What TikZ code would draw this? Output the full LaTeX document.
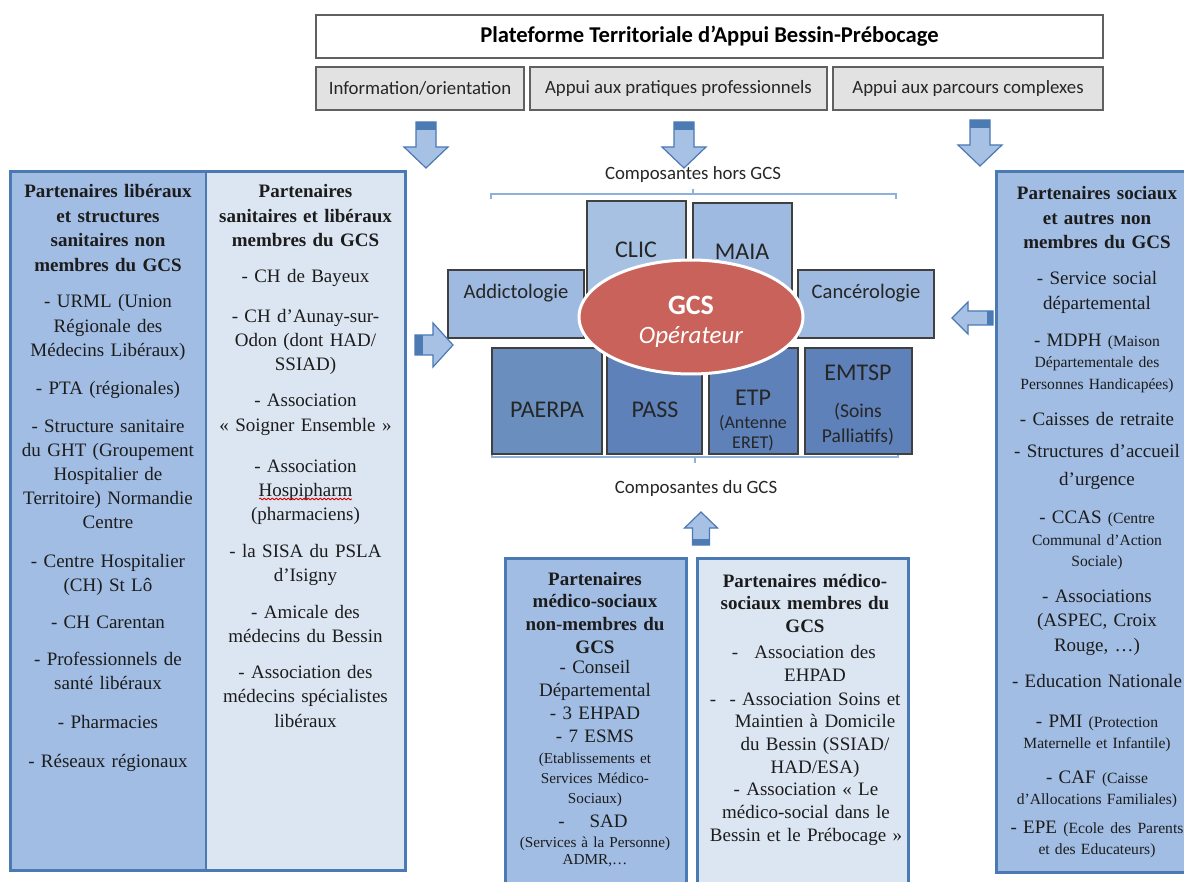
\documentclass[tikz,border=0pt]{standalone}
\usepackage{fontspec}
\setmainfont{Liberation Serif}
\newfontfamily\calib{Carlito}
\usetikzlibrary{shapes.geometric,decorations.pathmorphing}
\definecolor{bordB}{HTML}{4A79B4}
\definecolor{midB}{HTML}{A1BDE3}
\definecolor{lightB}{HTML}{DCE6F2}
\definecolor{hcsB}{HTML}{9EBAE1}
\definecolor{clicB}{HTML}{A7C1E3}
\definecolor{paerB}{HTML}{6A8FBE}
\definecolor{gcsB}{HTML}{5D81B8}
\definecolor{gcsR}{HTML}{C9625A}
\definecolor{grayF}{HTML}{E2E2E2}
\definecolor{grayD}{HTML}{606060}
\definecolor{brk}{HTML}{8EB1DA}
\definecolor{arrF}{HTML}{A6C1E4}
\definecolor{arrD}{HTML}{4C7AB3}
\definecolor{txt}{HTML}{1C1C1C}
\definecolor{ctxt}{HTML}{262626}
\newcommand{\smf}{\fontsize{7.8}{10.5}\selectfont}
\tikzset{
  para/.style={anchor=base, align=center, inner sep=0pt, text=txt, text width=100pt,
     font=\fontsize{9.5}{12.25}\selectfont},
  parab/.style={para, font=\bfseries\fontsize{9.5}{12.25}\selectfont},
  smallp/.style={para, font=\fontsize{7.8}{10.5}\selectfont},
  bpara/.style={para, text width=104pt, font=\fontsize{9.5}{11.4}\selectfont},
  bparab/.style={bpara, font=\bfseries\fontsize{9.5}{11.4}\selectfont},
  bsmall/.style={bpara, font=\fontsize{7.6}{10}\selectfont},
  topbox/.style={draw=grayD, fill=white, line width=0.8pt, inner sep=0pt, text=black},
  subbox/.style={draw=grayD, fill=grayF, line width=0.8pt, inner sep=0pt, text=ctxt,
     font=\calib\fontsize{9.4}{11}\selectfont},
  comp/.style={draw=black!75, line width=0.6pt},
  ctext/.style={inner sep=0pt, text=ctxt, font=\calib\fontsize{12}{14}\selectfont},
  clab/.style={inner sep=0pt, text=ctxt, font=\calib\fontsize{9.4}{11}\selectfont},
  brace/.style={draw=brk, line width=0.8pt},
  pbox/.style={draw=bordB, line width=1.5pt},
  pics/dnarr/.style={code={
    \filldraw[fill=arrF, draw=bordB, line width=0.6pt] (-10,0) -- (10,0) -- (10,25) -- (22,25) -- (0,46) -- (-22,25) -- (-10,25) -- cycle;
    \fill[arrD] (-10,0) rectangle (10,8);
  }},
  pics/rtarr/.style={code={
    \filldraw[fill=arrF, draw=bordB, line width=0.6pt] (0,-10) -- (18,-10) -- (18,-22) -- (38,0) -- (18,22) -- (18,10) -- (0,10) -- cycle;
    \fill[arrD] (0,-10) rectangle (8,10);
  }},
  pics/ltarr/.style={code={
    \filldraw[fill=arrF, draw=bordB, line width=0.6pt] (0,-7) -- (-25,-7) -- (-25,-16) -- (-41,0) -- (-25,16) -- (-25,7) -- (0,7) -- cycle;
    \fill[arrD] (-6,-7) rectangle (0,7);
  }},
  pics/uparr/.style={code={
    \filldraw[fill=arrF, draw=bordB, line width=0.6pt] (-8.5,0) -- (-8.5,-17) -- (-16.5,-17) -- (0,-33) -- (16.5,-17) -- (8.5,-17) -- (8.5,0) -- cycle;
    \fill[arrD] (-8.5,-6) rectangle (8.5,0);
  }},
}
\begin{document}
\begin{tikzpicture}[x=0.5pt,y=-0.5pt]
\clip (0,0) rectangle (1184,882);
\fill[white] (0,0) rectangle (1184,882);

% ---------- header ----------
\node[topbox, minimum width=393.5pt, minimum height=21.5pt, font=\calib\bfseries\fontsize{11.3}{13}\selectfont] (title) at (709.5,36.5) {Plateforme Territoriale d’Appui Bessin-Prébocage};
\node[subbox, minimum width=104pt, minimum height=21.5pt] (info) at (420,88.5) {Information/orientation};
\node[subbox, minimum width=148.5pt, minimum height=21.5pt] (prat) at (678.5,88.5) {Appui aux pratiques professionnels};
\node[subbox, minimum width=135pt, minimum height=21.5pt] (parc) at (968,88.5) {Appui aux parcours complexes};

\pic at (426,122) {dnarr};
\pic at (684,122) {dnarr};
\pic at (980,120) {dnarr};

% ---------- left columns ----------
\fill[midB] (10,172) rectangle (206,870);
\fill[lightB] (206,172) rectangle (405,870);
\draw[pbox] (10,172) rectangle (405,870);
\draw[bordB, line width=1pt] (206,172) -- (206,870);

\node[parab] (l0) at (108,198) {Partenaires libéraux\\et structures\\sanitaires non\\membres du GCS};
\node[para] (l1) at (108,308) {- URML (Union\\Régionale des\\Médecins Libéraux)};
\node[para] (l2) at (108,394) {- PTA (régionales)};
\node[para, font=\fontsize{9.5}{12.1}\selectfont] (l3) at (108,432) {- Structure sanitaire\\du GHT (Groupement\\Hospitalier de\\Territoire) Normandie\\Centre};
\node[para] (l4) at (108,567) {- Centre Hospitalier\\(CH) St Lô};
\node[para] (l5) at (108,628) {- CH Carentan};
\node[para] (l6) at (108,665) {- Professionnels de\\santé libéraux};
\node[para] (l7) at (108,728) {- Pharmacies};
\node[para] (l8) at (108,767) {- Réseaux régionaux};

\node[parab] (m0) at (305.5,198) {Partenaires\\sanitaires et libéraux\\membres du GCS};
\node[para] (m1) at (305.5,283) {- CH de Bayeux};
\node[para] (m2) at (305.5,322) {- CH d’Aunay-sur-\\Odon (dont HAD/\\SSIAD)};
\node[para] (m3) at (305.5,407) {- Association\\« Soigner Ensemble »};
\node[para] (m4) at (305.5,472) {- Association\\Hospipharm\\(pharmaciens)};
\draw[red!85!black, line width=0.4pt, decorate, decoration={snake, amplitude=0.45pt, segment length=2pt}] (259,499) -- (352,499);
\node[para] (m5) at (305.5,557) {- la SISA du PSLA\\d’Isigny};
\node[para] (m6) at (305.5,618) {- Amicale des\\médecins du Bessin};
\node[para] (m7) at (305.5,678) {- Association des\\médecins spécialistes\\libéraux};

% ---------- right column ----------
\fill[midB] (996,172) rectangle (1195,872);
\draw[pbox] (996,172) rectangle (1195,872);
\pic at (993,318) {ltarr};

\node[parab] (r0) at (1097,200) {Partenaires sociaux\\et autres non\\membres du GCS};
\node[para] (r1) at (1097,285) {- Service social\\départemental};
\node[para] (r2) at (1097,347) {- MDPH {\smf (Maison}};
\node[smallp] (r2b) at (1097,368) {Départementale des\\Personnes Handicapées)};
\node[para] (r3) at (1097,425) {- Caisses de retraite};
\node[para, font=\fontsize{9.5}{13.5}\selectfont] (r4) at (1097,458) {- Structures d’accueil\\d’urgence};
\node[para] (r5) at (1097,523) {- CCAS {\smf (Centre}};
\node[smallp] (r5b) at (1097,545) {Communal d’Action\\Sociale)};
\node[para] (r6) at (1097,602) {- Associations\\(ASPEC, Croix\\Rouge, …)};
\node[para] (r7) at (1097,687) {- Education Nationale};
\node[para] (r8) at (1097,727) {- PMI {\smf (Protection}};
\node[smallp] (r8b) at (1097,748) {Maternelle et Infantile)};
\node[para] (r9) at (1097,783) {- CAF {\smf (Caisse}};
\node[smallp] (r9b) at (1097,804) {d’Allocations Familiales)};
\node[para] (r10) at (1097,833) {- EPE {\smf (Ecole des Parents}};
\node[smallp] (r10b) at (1097,854) {et des Educateurs)};

% ---------- center ----------
\node[clab] (hors) at (693,174) {Composantes hors GCS};
\draw[brace] (491,199) -- (491,194) -- (896,194) -- (896,199);
\draw[brace] (693,194) -- (693,189);
\draw[brace] (492,451) -- (492,457) -- (898,457) -- (898,451);
\draw[brace] (695,457) -- (695,463);
\node[clab] (du) at (696,488) {Composantes du GCS};

\filldraw[comp, fill=clicB] (587,201) rectangle (686,320);
\filldraw[comp, fill=hcsB] (693,203) rectangle (792,320);
\filldraw[comp, fill=hcsB] (448,270) rectangle (584,338);
\filldraw[comp, fill=hcsB] (798,270) rectangle (934,338);
\node[ctext] (clic) at (636,250) {CLIC};
\node[ctext] (maia) at (742,252) {MAIA};
\node[ctext, font=\calib\fontsize{10.3}{12}\selectfont] (addi) at (516,293) {Addictologie};
\node[ctext, font=\calib\fontsize{10.3}{12}\selectfont] (canc) at (866,293) {Cancérologie};

\filldraw[comp, fill=paerB] (492,348) rectangle (602,454);
\filldraw[comp, fill=gcsB] (607,348) rectangle (702,454);
\filldraw[comp, fill=gcsB] (709,348) rectangle (798,454);
\filldraw[comp, fill=gcsB] (805,348) rectangle (912,454);
\node[ctext] (paerpa) at (547,410) {PAERPA};
\node[ctext] (pass) at (655,410) {PASS};
\node[ctext] (etp) at (753,398) {ETP};
\node[ctext, font=\calib\fontsize{9}{10}\selectfont] (etpa) at (753,423) {(Antenne};
\node[ctext, font=\calib\fontsize{9}{10}\selectfont] (etpb) at (753,443) {ERET)};
\node[ctext] (emtsp) at (858,373) {EMTSP};
\node[ctext, font=\calib\fontsize{9.8}{11}\selectfont] (emta) at (858,412) {(Soins};
\node[ctext, font=\calib\fontsize{9.8}{11}\selectfont] (emtb) at (858,437) {Palliatifs)};

\node[ellipse, fill=gcsR, draw=white, line width=1.5pt, minimum width=112pt, minimum height=57pt, inner sep=0pt] (gcs) at (691,317) {};
\node[inner sep=0pt, text=white, font=\calib\bfseries\fontsize{14}{16}\selectfont] (gcst) at (691,305) {GCS};
\node[inner sep=0pt, text=white, font=\calib\itshape\fontsize{12.5}{14}\selectfont] (opt) at (691,337) {Opérateur};

\pic at (415,345) {rtarr};
\pic at (701,545) {uparr};

% ---------- bottom boxes ----------
\fill[midB] (505,558) rectangle (686,895);
\draw[pbox] (505,558) rectangle (686,895);
\fill[lightB] (697,558) rectangle (908,895);
\draw[pbox] (697,558) rectangle (908,895);

\node[bparab] (b0) at (595,585) {Partenaires\\médico-sociaux\\non-membres du\\GCS};
\node[bpara, font=\fontsize{9.5}{11.6}\selectfont] (b1) at (595,673) {- Conseil\\Départemental\\- 3 EHPAD\\- 7 ESMS};
\node[bsmall] (b2) at (595,763) {(Etablissements et\\Services Médico-\\Sociaux)};
\node[bpara] (b3) at (593,827) {-\hspace{1.3em}SAD};
\node[bsmall, font=\fontsize{7.6}{8.8}\selectfont] (b4) at (595,847) {(Services à la Personne)\\ADMR,…};

\node[bparab] (c0) at (805,587) {Partenaires médico-\\sociaux membres du\\GCS};
\node[bpara, text width=8pt] (c1d) at (735,658) {-};
\node[bpara, font=\fontsize{9.5}{11.8}\selectfont] (c1) at (815,658) {Association des\\EHPAD};
\node[bpara, text width=8pt] (c2d) at (713,705) {-};
\node[bpara, font=\fontsize{9.5}{11.4}\selectfont] (c2) at (815,705) {- Association Soins et\\Maintien à Domicile\\du Bessin (SSIAD/\\HAD/ESA)};
\node[bpara, font=\fontsize{9.5}{11.7}\selectfont] (c3) at (806,795) {- Association « Le\\médico-social dans le\\Bessin et le Prébocage »};
\end{tikzpicture}
\end{document}
